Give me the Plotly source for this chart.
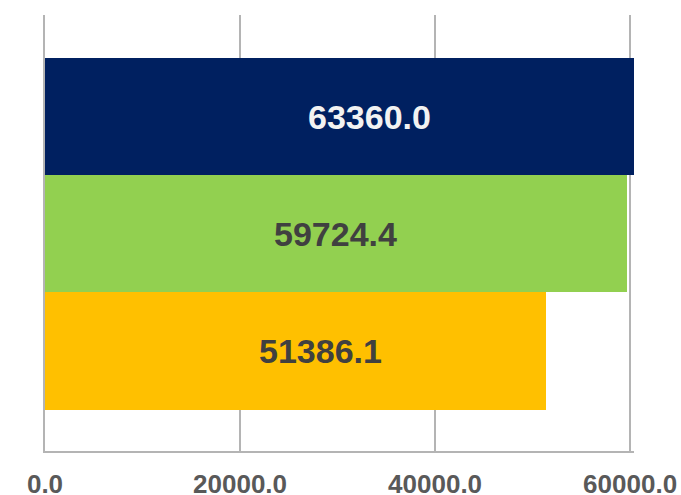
import plotly.graph_objects as go

# Series shown as horizontal bars, bottom to top
series_names = ["C", "B", "A"]
values = [51386.1, 59724.4, 63360.0]
bar_colors = ["#FFC000", "#92D050", "#002060"]
label_colors = ["#404040", "#404040", "#F2F2F2"]
# horizontal placement of each value label (axis units)
label_x = [28200, 29800, 33300]

tick_vals = [0, 20000, 40000, 60000]
tick_text = ["0.0", "20000.0", "40000.0", "60000.0"]

grid_color = "#B4B4B4"

fig = go.Figure()
fig.add_trace(go.Bar(
    x=values,
    y=list(range(len(values))),
    orientation="h",
    width=1.0,
    marker=dict(color=bar_colors, line=dict(width=0)),
    hoverinfo="skip",
    showlegend=False,
))

for i, v in enumerate(values):
    fig.add_annotation(
        x=label_x[i], y=i, xref="x", yref="y",
        text=f"{v:.1f}", showarrow=False,
        font=dict(family="Liberation Sans, Arial, sans-serif", size=34,
                  color=label_colors[i], weight="bold"),
        xanchor="center", yanchor="middle",
    )

fig.update_layout(
    width=681, height=495,
    margin=dict(l=45, r=47, t=15, b=44),
    plot_bgcolor="white", paper_bgcolor="white",
    bargap=0,
)
fig.update_xaxes(
    range=[0, 60400],
    tickvals=tick_vals, ticktext=tick_text,
    showgrid=True, gridcolor=grid_color, gridwidth=1.5,
    zeroline=False, automargin=False,
    showline=True, linecolor=grid_color, linewidth=1.5,
    ticks="", ticklabelstandoff=9,
    tickfont=dict(family="Liberation Sans, Arial, sans-serif", size=26,
                  color="#595959", weight="bold"),
)
fig.update_yaxes(
    range=[-0.853, 2.868],
    showgrid=False, zeroline=False, automargin=False,
    showline=True, linecolor=grid_color, linewidth=1.5,
    showticklabels=False, ticks="",
)

fig.write_html("out.html")
